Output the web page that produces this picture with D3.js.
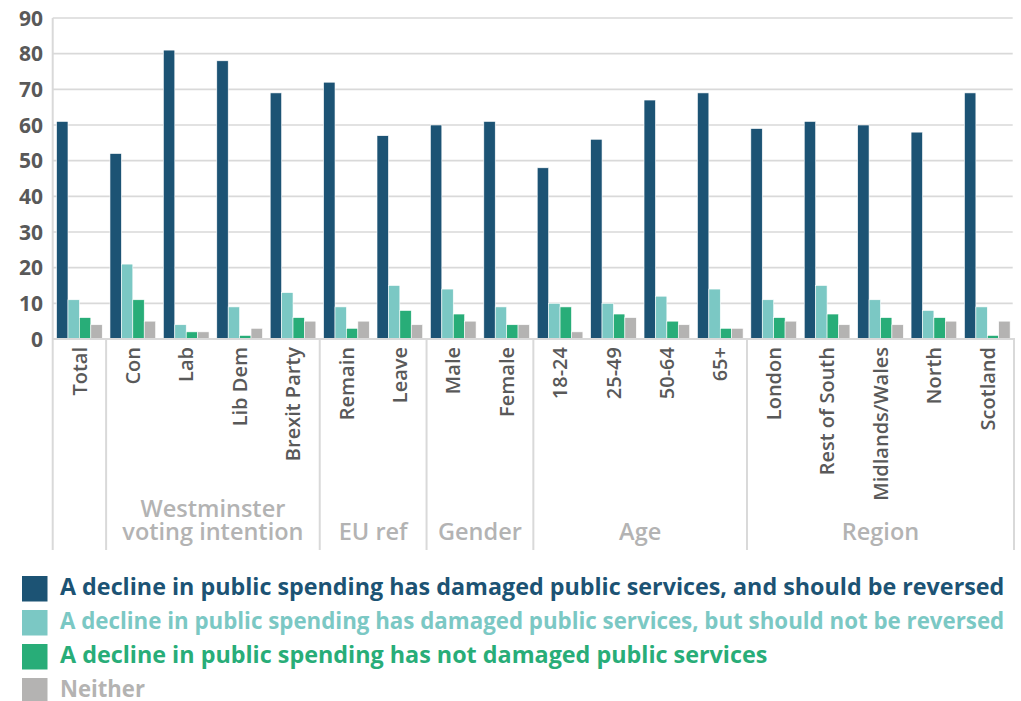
<!DOCTYPE html>
<html>
<head>
<meta charset="utf-8">
<script src="https://cdn.jsdelivr.net/npm/d3@7"></script>
<style>
  html, body { margin: 0; padding: 0; background: #ffffff; }
  svg { display: block; font-family: "Open Sans", "Noto Sans", sans-serif; }
</style>
</head>
<body>
<svg id="chart" width="1021" height="701"></svg>
<script>
// Survey breakdown: views on the effect of public spending cuts
const categories = ["Total", "Con", "Lab", "Lib Dem", "Brexit Party", "Remain", "Leave",
  "Male", "Female", "18-24", "25-49", "50-64", "65+",
  "London", "Rest of South", "Midlands/Wales", "North", "Scotland"];

const seriesNames = [
  "A decline in public spending has damaged public services, and should be reversed",
  "A decline in public spending has damaged public services, but should not be reversed",
  "A decline in public spending has not damaged public services",
  "Neither"
];

const damagedReverse    = [61, 52, 81, 78, 69, 72, 57, 60, 61, 48, 56, 67, 69, 59, 61, 60, 58, 69];
const damagedNotReverse = [11, 21, 4, 9, 13, 9, 15, 14, 9, 10, 10, 12, 14, 11, 15, 11, 8, 9];
const notDamaged        = [6, 11, 2, 1, 6, 3, 8, 7, 4, 9, 7, 5, 3, 6, 7, 6, 6, 1];
const neither           = [4, 5, 2, 3, 5, 5, 4, 5, 4, 2, 6, 4, 3, 5, 4, 4, 5, 5];

// Outer category groups: label lines and number of categories in each
const groupLabels = [[], ["Westminster", "voting intention"], ["EU ref"], ["Gender"], ["Age"], ["Region"]];
const groupSizes  = [1, 4, 2, 2, 4, 5];

const yTicks = [0, 10, 20, 30, 40, 50, 60, 70, 80, 90];

const colors = ["#1c5374", "#7bc8c4", "#28ad78", "#b4b3b2"];
const seriesValues = [damagedReverse, damagedNotReverse, notDamaged, neither];

const svg = d3.select("#chart");

const plot = { left: 52.7, right: 1014, top: 18, bottom: 339 };
const axisBottom = 550;
const lineColor = "#d9d9d9";
const labelColor = "#595959";
const groupColor = "#b3b3b3";

const y = d3.scaleLinear().domain([0, 90]).range([plot.bottom, plot.top]);

const x0 = d3.scaleBand()
  .domain(categories)
  .range([plot.left, plot.right])
  .paddingInner(0.145)
  .paddingOuter(0.0725);

const x1 = d3.scaleBand()
  .domain(d3.range(seriesNames.length))
  .range([0, x0.bandwidth()])
  .padding(0);

// Horizontal gridlines
svg.append("g")
  .selectAll("line")
  .data(yTicks.filter(d => d > 0))
  .join("line")
  .attr("x1", plot.left)
  .attr("x2", plot.right - 1.3)
  .attr("y1", d => y(d))
  .attr("y2", d => y(d))
  .attr("stroke", lineColor)
  .attr("stroke-width", 1.6);

// Y tick labels
svg.append("g")
  .selectAll("text")
  .data(yTicks)
  .join("text")
  .attr("x", 43)
  .attr("y", d => y(d))
  .attr("dy", "0.36em")
  .attr("text-anchor", "end")
  .attr("font-size", 21)
  .attr("font-weight", 700)
  .attr("fill", labelColor)
  .text(d => d);

// Bars
const catData = categories.map((c, i) => ({
  cat: c,
  values: seriesValues.map((s, k) => ({ k, v: s[i] }))
}));

svg.append("g")
  .selectAll("g")
  .data(catData)
  .join("g")
  .attr("transform", d => `translate(${x0(d.cat)},0)`)
  .selectAll("rect")
  .data(d => d.values)
  .join("rect")
  .attr("x", d => x1(d.k))
  .attr("width", x1.bandwidth())
  .attr("y", d => y(d.v))
  .attr("height", d => y(0) - y(d.v))
  .attr("fill", d => colors[d.k])
  .attr("stroke", "#ffffff")
  .attr("stroke-width", 0.6);

// Axis frame: baseline, left edge, and group separators
const gap = (x0.step() - x0.bandwidth()) / 2;
const boundaries = [];
let idx = 0;
groupSizes.forEach(n => {
  boundaries.push({ start: x0(categories[idx]) - gap, end: x0(categories[idx + n - 1]) + x0.bandwidth() + gap });
  idx += n;
});

const axisG = svg.append("g");
axisG.append("line")
  .attr("x1", plot.left).attr("x2", plot.right + 1)
  .attr("y1", plot.bottom).attr("y2", plot.bottom)
  .attr("stroke", lineColor).attr("stroke-width", 2);

axisG.append("line")
  .attr("x1", plot.left).attr("x2", plot.left)
  .attr("y1", plot.top).attr("y2", axisBottom)
  .attr("stroke", lineColor).attr("stroke-width", 2);

axisG.selectAll("line.sep")
  .data(boundaries.map(b => b.end))
  .join("line")
  .attr("class", "sep")
  .attr("x1", d => d).attr("x2", d => d)
  .attr("y1", plot.bottom).attr("y2", axisBottom)
  .attr("stroke", lineColor).attr("stroke-width", 2);

// Category labels (rotated)
svg.append("g")
  .selectAll("text")
  .data(categories)
  .join("text")
  .attr("transform", d => `translate(${x0(d) + x0.bandwidth() / 2},${plot.bottom + 8}) rotate(-90)`)
  .attr("dy", "0.36em")
  .attr("text-anchor", "end")
  .attr("font-size", 20)
  .attr("font-weight", 600)
  .attr("fill", labelColor)
  .text(d => d);

// Group labels, one text element per line
const groupG = svg.append("g");
groupLabels.forEach((lines, gi) => {
  if (!lines.length) return;
  const b = boundaries[gi];
  const cx = (b.start + b.end) / 2;
  lines.forEach((ln, li) => {
    groupG.append("text")
      .attr("x", cx)
      .attr("y", 540 - (lines.length - 1 - li) * 23)
      .attr("text-anchor", "middle")
      .attr("font-size", 23.5)
      .attr("font-weight", 600)
      .attr("fill", groupColor)
      .text(ln);
  });
});

// Legend
const legend = svg.append("g")
  .selectAll("g")
  .data(seriesNames)
  .join("g")
  .attr("transform", (d, i) => `translate(22,${576 + i * 34})`);

legend.append("rect")
  .attr("width", 25.5)
  .attr("height", 25.5)
  .attr("fill", (d, i) => colors[i]);

const legendText = legend.append("text")
  .attr("font-size", 24)
  .attr("font-weight", 700)
  .attr("fill", (d, i) => colors[i])
  .text(d => d);

// Legend lines are set in a condensed width so the two long entries share one right edge
const legendLineWidths = [945, 945, 708, 85];
legendText.each(function (d, i) {
  const natural = this.getComputedTextLength();
  const sx = Math.min(1, legendLineWidths[i] / natural);
  d3.select(this).attr("transform", `translate(38,19) scale(${sx},1)`);
});
</script>
</body>
</html>
